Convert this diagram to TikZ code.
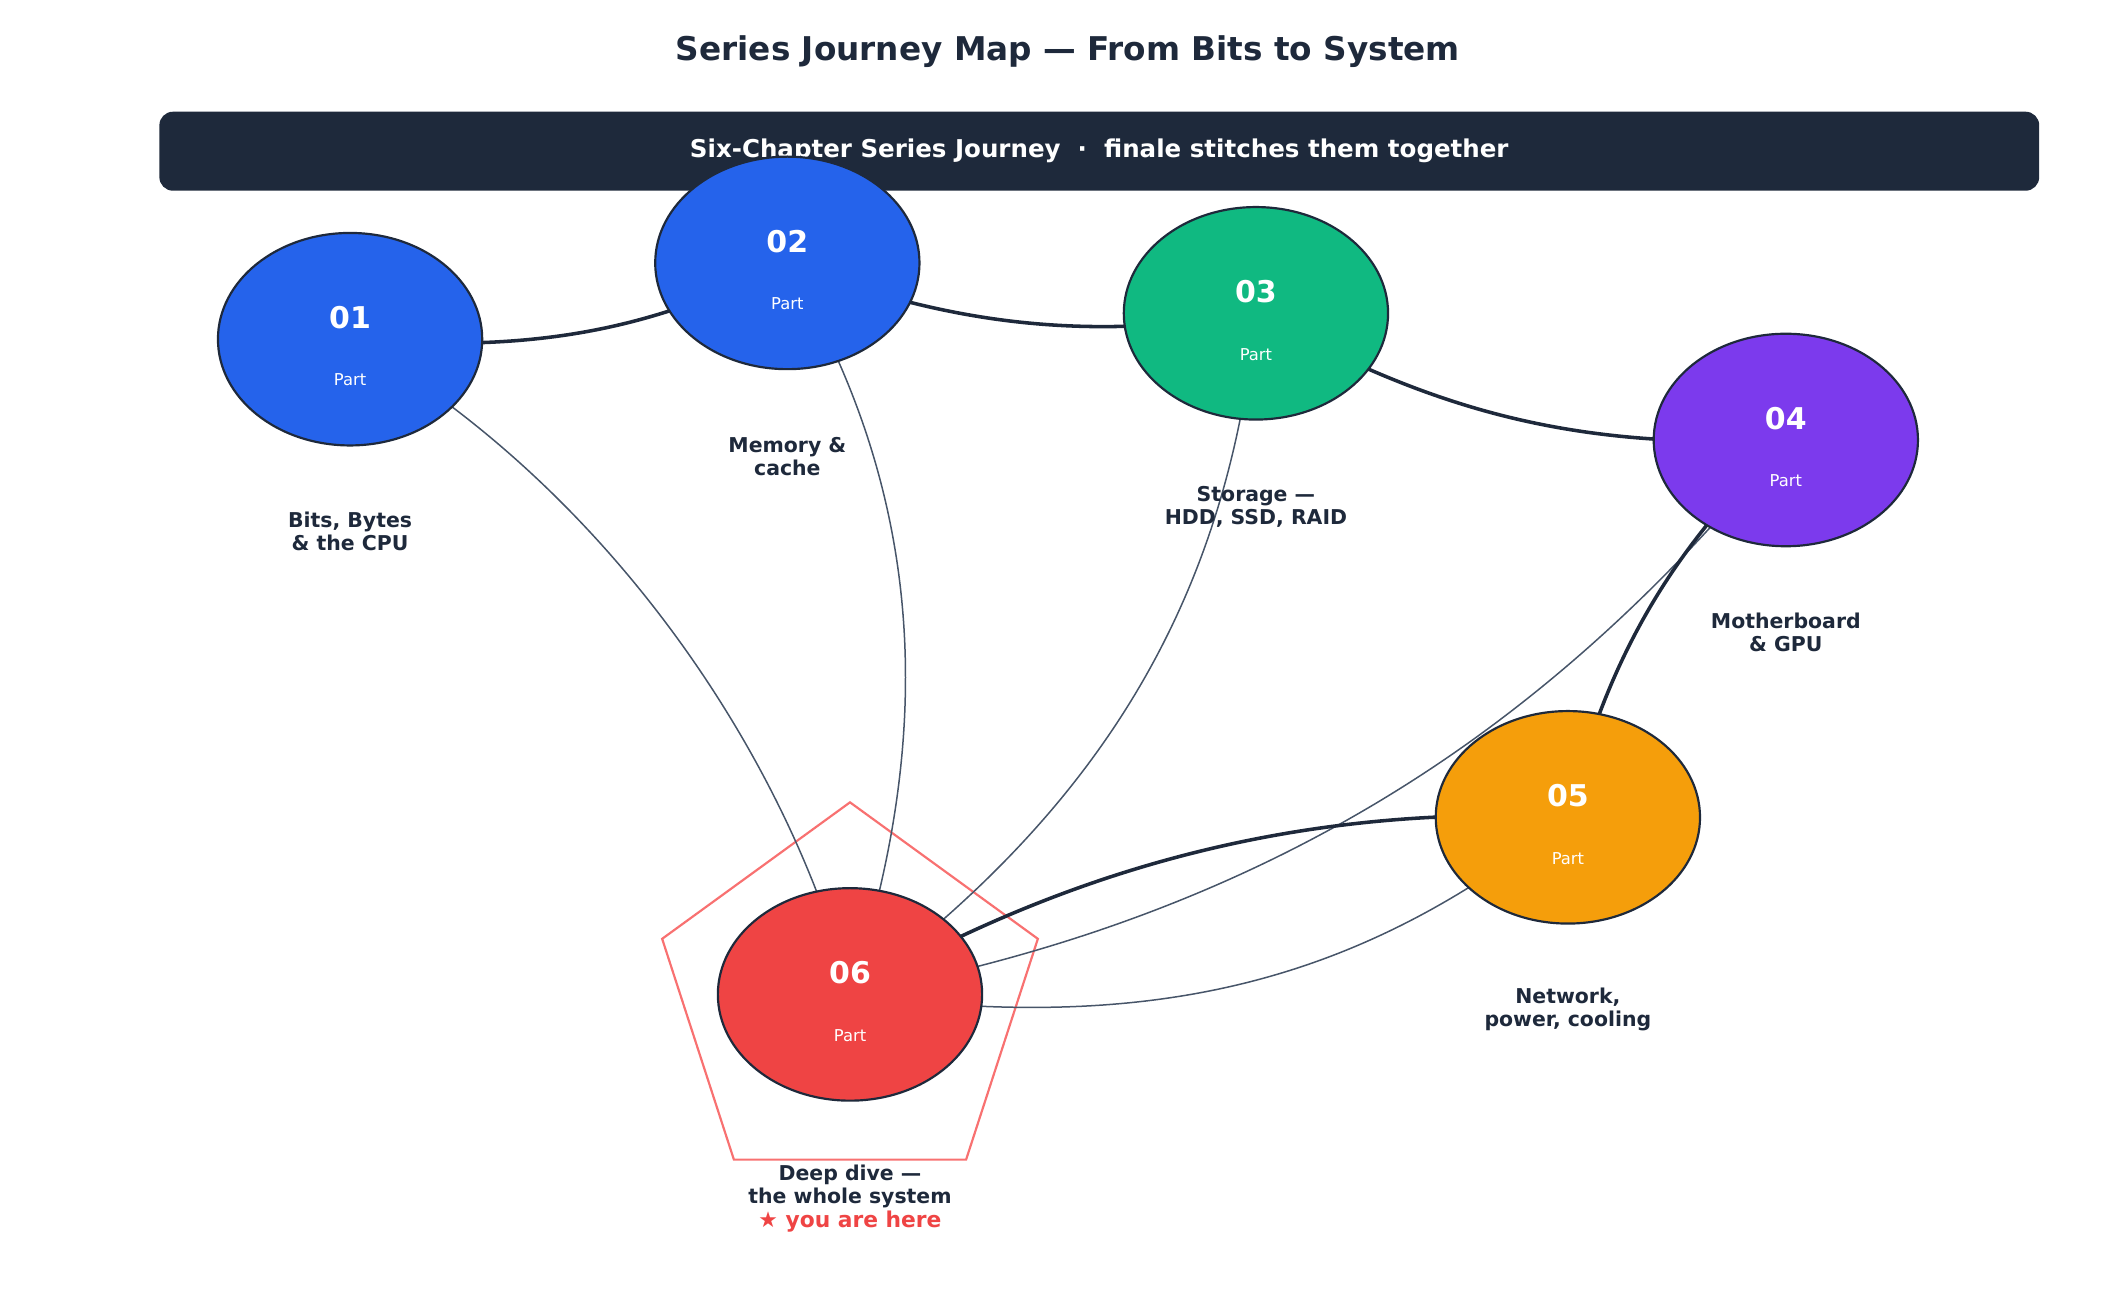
\documentclass[tikz,border=0pt]{standalone}
\usepackage{fontspec}
\setmainfont{DejaVu Sans}
\usetikzlibrary{shapes.geometric,calc}
\definecolor{navy}{HTML}{1E293B}
\definecolor{slate}{HTML}{475569}
\definecolor{cblue}{HTML}{2563EB}
\definecolor{cgreen}{HTML}{10B981}
\definecolor{cpurple}{HTML}{7C3AED}
\definecolor{corange}{HTML}{F59E0B}
\definecolor{cred}{HTML}{EF4444}
\definecolor{cpent}{HTML}{F87171}
\tikzset{
 part/.style={ellipse,draw=navy,line width=1.6pt,minimum width=194pt,minimum height=156pt,inner sep=0pt},
 thickedge/.style={draw=navy,line width=2.6pt},
 thinedge/.style={draw=slate,line width=1.1pt},
 lbl/.style={text=navy,font=\fontsize{15}{17}\selectfont\bfseries,align=center},
 num/.style={text=white,font=\fontsize{22}{24}\selectfont\bfseries},
 sub/.style={text=white,font=\fontsize{12}{14}\selectfont}
}
\begin{document}
\begin{tikzpicture}[x=1pt,y=-1pt]
\useasboundingbox (0,0) rectangle (1560,956);
\coordinate (p1) at (257,249);
\coordinate (p2) at (578,193);
\coordinate (p3) at (922,230);
\coordinate (p4) at (1311,323);
\coordinate (p5) at (1151,600);
\coordinate (p6) at (624,730);
\node[text=navy,font=\fontsize{24}{28}\selectfont\bfseries] (title) at (784,38) {Series Journey Map — From Bits to System};
\node[fill=navy,rounded corners=10pt,minimum width=1380pt,minimum height=58pt] (banner) at (807,111) {};
\node[text=white,font=\fontsize{18}{20}\selectfont\bfseries] (btext) at (807,111) {Six-Chapter Series Journey \ ·\ \ finale stitches them together};
% pentagon
\node[regular polygon,regular polygon sides=5,draw=cpent,line width=1.6pt,minimum size=290pt,inner sep=0pt] (pent) at (624,734) {};
% thin edges
\draw[thinedge] (p1) .. controls (450,360) and (580,560) .. (p6);
\draw[thinedge] (p2) .. controls (690,380) and (680,560) .. (p6);
\draw[thinedge] (p3) .. controls (900,450) and (800,600) .. (p6);
\draw[thinedge] (p4) .. controls (1150,520) and (950,670) .. (p6);
\draw[thinedge] (p5) .. controls (1000,720) and (850,760) .. (p6);
% thick edges
\draw[thickedge] (p1) .. controls (400,260) and (480,240) .. (p2);
\draw[thickedge] (p2) .. controls (700,240) and (800,250) .. (p3);
\draw[thickedge] (p3) .. controls (1050,300) and (1150,330) .. (p4);
\draw[thickedge] (p4) .. controls (1230,400) and (1180,480) .. (p5);
\draw[thickedge] (p5) .. controls (950,590) and (780,640) .. (p6);
% nodes
\node[part,fill=cblue] (n1) at (p1) {};
\node[part,fill=cblue] (n2) at (p2) {};
\node[part,fill=cgreen] (n3) at (p3) {};
\node[part,fill=cpurple] (n4) at (p4) {};
\node[part,fill=corange] (n5) at (p5) {};
\node[part,fill=cred] (n6) at (p6) {};
\foreach \i in {1,...,6}{
  \node[num] (num\i) at ($(p\i)+(0,-16)$) {0\i};
  \node[sub] (sub\i) at ($(p\i)+(0,30)$) {Part};
}
\node[lbl] (l1) at (257,390) {Bits, Bytes\\\& the CPU};
\node[lbl] (l2) at (578,335) {Memory \&\\cache};
\node[lbl] (l3) at (922,372) {Storage —\\HDD, SSD, RAID};
\node[lbl] (l4) at (1311,464) {Motherboard\\\& GPU};
\node[lbl] (l5) at (1151,741) {Network,\\power, cooling};
\node[lbl] (l6) at (624,871) {Deep dive —\\the whole system};
\node[text=cred,font=\fontsize{16}{18}\selectfont\bfseries] (here) at (624,897) {★ you are here};
\end{tikzpicture}
\end{document}
